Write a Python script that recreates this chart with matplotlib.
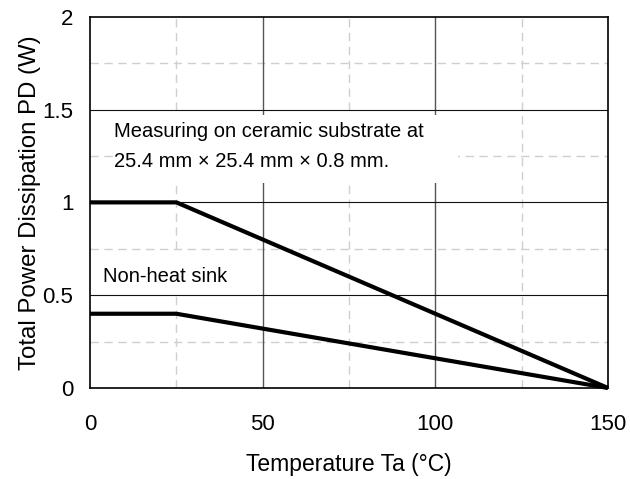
import matplotlib
matplotlib.use('Agg')
import matplotlib.pyplot as plt
from matplotlib.patches import Rectangle

plt.rcParams['font.family'] = ['Liberation Sans', 'DejaVu Sans']

# derating curves (Ta in degC, PD in W)
ta_ceramic = [0, 25, 150]
pd_ceramic = [1.0, 1.0, 0.0]
ta_noheat = [0, 25, 150]
pd_noheat = [0.4, 0.4, 0.0]

x_major = [0, 50, 100, 150]
y_major = [0, 0.5, 1, 1.5, 2]
x_labels = ['0', '50', '100', '150']
y_labels = ['0', '0.5', '1', '1.5', '2']

fig = plt.figure(figsize=(6.3, 4.79), dpi=100)
ax = fig.add_axes([0.143, 0.19, 0.822, 0.775])

ax.set_xlim(0, 150)
ax.set_ylim(0, 2)

# grid: minor dashed light gray, major solid
for xv in [25, 75, 125]:
    ax.axvline(xv, color='#cfcfcf', lw=1.0, ls=(0, (6, 4)), zorder=1)
for yv in [0.25, 0.75, 1.25, 1.75]:
    ax.axhline(yv, color='#cfcfcf', lw=1.0, ls=(0, (6, 4)), zorder=1)
for xv in [50, 100]:
    ax.axvline(xv, color='#555555', lw=1.0, zorder=1)
for yv in [0.5, 1.0, 1.5]:
    ax.axhline(yv, color='#111111', lw=0.8, zorder=1)

# white backgrounds behind the notes
ax.add_patch(Rectangle((7.6, 1.105), 99, 0.367, facecolor='white', edgecolor='none', zorder=2))
ax.add_patch(Rectangle((1.4, 0.518), 43, 0.215, facecolor='white', edgecolor='none', zorder=2))

ax.plot(ta_ceramic, pd_ceramic, color='black', lw=3.0, solid_capstyle='butt', zorder=4, clip_on=False)
ax.plot(ta_noheat, pd_noheat, color='black', lw=3.0, solid_capstyle='butt', zorder=4, clip_on=False)

ax.text(7, 1.30, 'Measuring on ceramic substrate at\n25.4 mm \u00d7 25.4 mm \u00d7 0.8 mm.',
        fontsize=14.5, va='center', ha='left', linespacing=1.75, zorder=3)
ax.text(3.8, 0.598, 'Non-heat sink', fontsize=14.5, va='center', ha='left', zorder=3)

ax.set_xticks(x_major)
ax.set_xticklabels(x_labels)
ax.set_yticks(y_major)
ax.set_yticklabels(y_labels)
ax.tick_params(length=0, labelsize=16)
ax.tick_params(axis='x', pad=19)
ax.tick_params(axis='y', pad=12)

ax.set_xlabel('Temperature Ta (\u00b0C)', fontsize=16.5, labelpad=13)
ax.set_ylabel('Total Power Dissipation PD (W)', fontsize=17.3, labelpad=1)

for s in ax.spines.values():
    s.set_linewidth(1.2)
    s.set_color('black')
    s.set_zorder(5)

fig.savefig('out.png', dpi=100)
